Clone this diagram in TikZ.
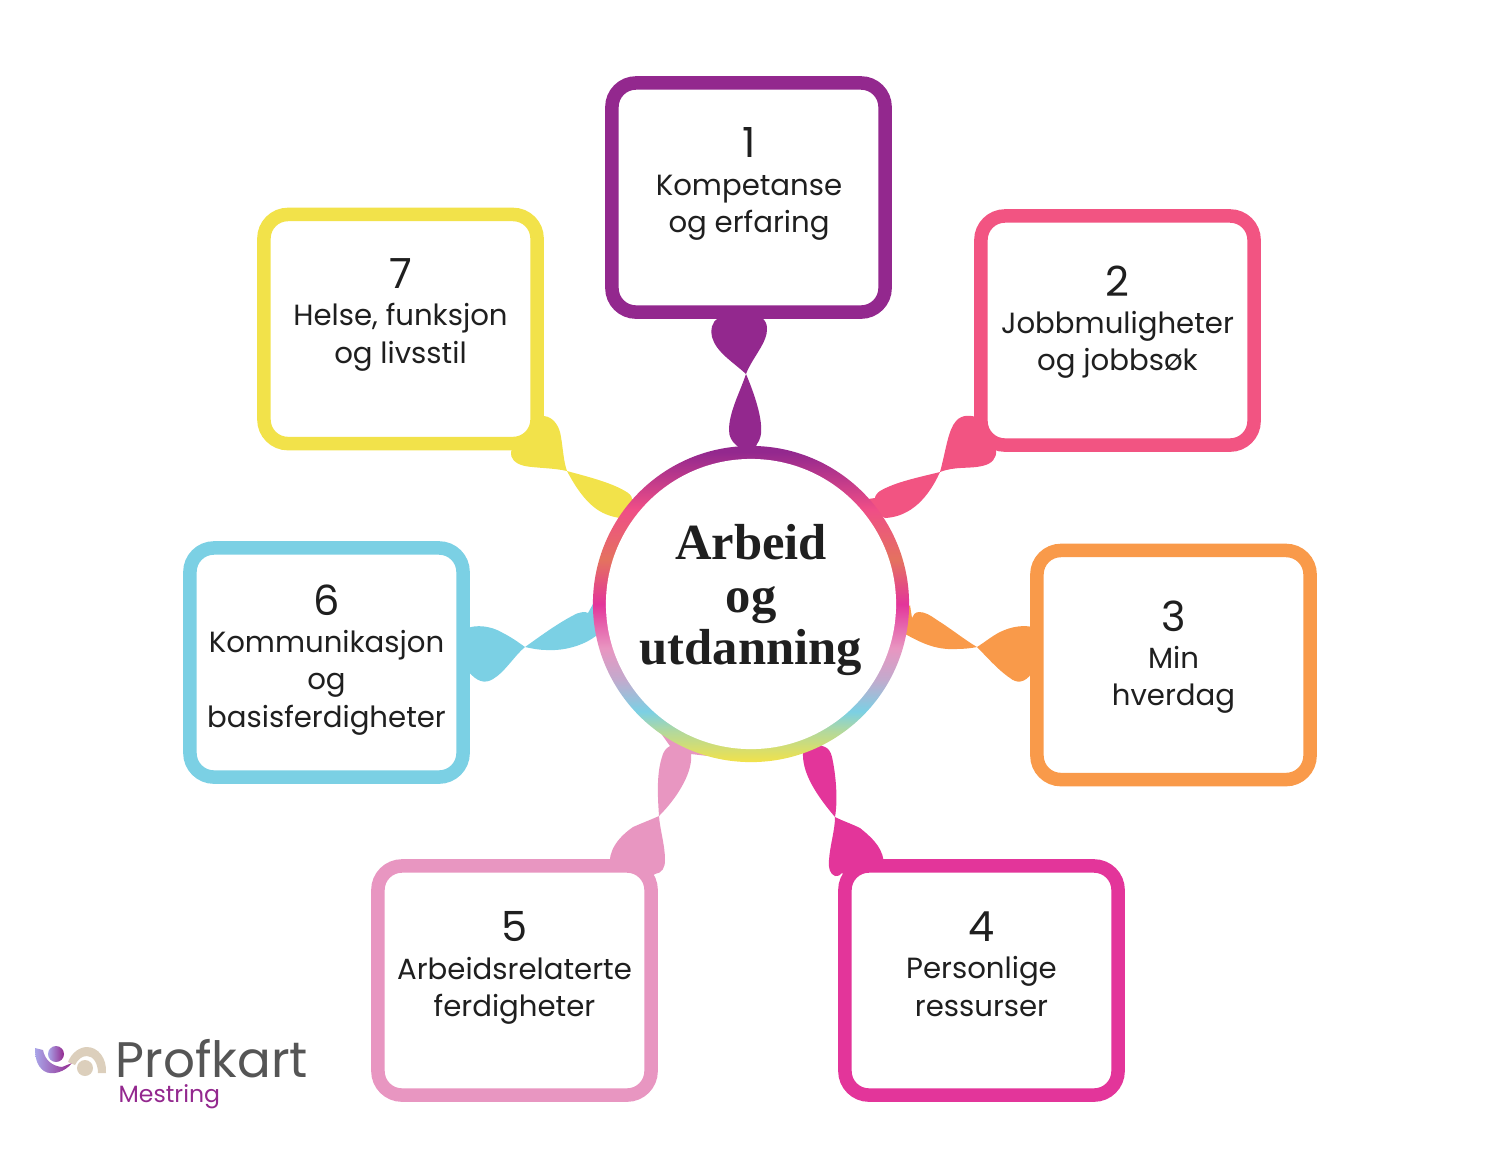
\documentclass[tikz,border=0pt]{standalone}
\usepackage{fontspec}
\usepackage{tikz}
\usetikzlibrary{backgrounds}
\newfontfamily\kortfont{Poppins}
\newfontfamily\tittelfont{Liberation Serif}
\definecolor{lilla}{HTML}{93288E}
\definecolor{rosa}{HTML}{F25482}
\definecolor{oransje}{HTML}{F99A4A}
\definecolor{magenta}{HTML}{E3359A}
\definecolor{lysrosa}{HTML}{E896C1}
\definecolor{lysblaa}{HTML}{7BD0E4}
\definecolor{gul}{HTML}{F2E24A}
\definecolor{tekst}{HTML}{1F1F1F}
\definecolor{beige}{HTML}{DCCFBC}
\definecolor{graa}{HTML}{555555}
\definecolor{fiolett}{HTML}{A9A5E8}
\definecolor{ringoransje}{HTML}{E4725F}
\pgfdeclareverticalshading{ringshade}{100bp}{color(0bp)=(gul); color(25bp)=(gul); color(30bp)=(gul!45!lysblaa); color(33bp)=(lysblaa); color(38bp)=(lysblaa!35!lysrosa); color(43bp)=(lysrosa); color(50bp)=(magenta); color(57bp)=(ringoransje); color(65bp)=(rosa!80!magenta); color(74bp)=(lilla); color(100bp)=(lilla)}
\tikzset{
  kort/.style={draw=#1, fill=white, line width=0.135cm, rounded corners=0.24cm, minimum width=2.73cm, minimum height=2.29cm, inner sep=0pt},
  korttekst/.style={align=center, anchor=north, inner sep=0pt, text=tekst, font=\kortfont\fontsize{8.3}{10.6}\selectfont},
  senterring/.style={circle, fill=white, minimum size=2.9cm, inner sep=0pt},
  tittel/.style={align=center, inner sep=0pt, text=tekst, font=\tittelfont\bfseries\fontsize{14.4}{14.8}\selectfont}
}
\newcommand{\tall}[1]{{\fontsize{11.8}{10.6}\selectfont #1}}
\begin{document}
\begin{tikzpicture}[x=0.01cm, y=-0.01cm]
\useasboundingbox (0,0) rectangle (1500,1159);
\node[kort=lilla] (kort1) at (748.5,197.5) {};
\node[kort=rosa] (kort2) at (1117.5,330.5) {};
\node[kort=oransje] (kort3) at (1173.5,665) {};
\node[kort=magenta] (kort4) at (981.5,980.5) {};
\node[kort=lysrosa] (kort5) at (514.5,980.5) {};
\node[kort=lysblaa] (kort6) at (326.5,662.5) {};
\node[kort=gul] (kort7) at (400.5,329) {};
\node[senterring] (senter) at (751,604) {};
\node[tittel] (tittel) at (751,600) {Arbeid\\og\\utdanning};
\node[korttekst] (tekst1) at (749,127) {\tall{1}\\Kompetanse\\og erfaring};
\node[korttekst] (tekst2) at (1117.5,265) {\tall{2}\\Jobbmuligheter\\og jobbsøk};
\node[korttekst] (tekst3) at (1173.5,600) {\tall{3}\\Min\\hverdag};
\node[korttekst] (tekst4) at (981.5,911) {\tall{4}\\Personlige\\ressurser};
\node[korttekst] (tekst5) at (514.5,911) {\tall{5}\\Arbeidsrelaterte\\ferdigheter};
\node[korttekst] (tekst6) at (326.5,584) {\tall{6}\\Kommunikasjon\\og\\basisferdigheter};
\node[korttekst] (tekst7) at (400.5,258) {\tall{7}\\Helse, funksjon\\og livsstil};
\begin{scope}[on background layer]
\fill[lilla] (kort1.center) -- (718,318) .. controls (712,322) and (710,330) .. (712,337) .. controls (716,352) and (733,362) .. (746,374) .. controls (740,392) and (729,412) .. (729,430) .. controls (729,437) and (732,441) .. (735,444) -- (senter.north) -- (757,444) .. controls (760,440) and (762,434) .. (761,425) .. controls (760,410) and (752,388) .. (746,374) .. controls (752,358) and (768,342) .. (767,328) .. controls (767,324) and (765,320) .. (762,318) -- cycle;
\fill[rosa] (kort2.center) -- (978,418) .. controls (972,415) and (962,414) .. (956,421) .. controls (948,430) and (946,450) .. (940,472) .. controls (920,477) and (895,482) .. (880,491) .. controls (877,493) and (875,496) .. (875,498) -- (senter.45) -- (885,518) .. controls (905,517) and (925,505) .. (940,472) .. controls (955,466) and (970,469) .. (982,466) .. controls (992,464) and (997,458) .. (996,450) -- cycle;
\fill[oransje] (kort3.center) -- (1032,627) .. controls (1025,625) and (1012,626) .. (1000,632) .. controls (992,636) and (985,642) .. (977,647) .. controls (965,640) and (950,628) .. (937,620) .. controls (930,615) and (925,612) .. (919,612) .. controls (915,612) and (913,615) .. (912,618) -- (910,605) -- (senter.-10) -- (907,635) .. controls (920,642) and (935,650) .. (955,649) .. controls (965,649) and (972,648) .. (977,647) .. controls (985,655) and (998,670) .. (1010,678) .. controls (1016,683) and (1024,684) .. (1032,673) -- cycle;
\fill[magenta] (kort4.center) -- (884,866) .. controls (884,850) and (875,840) .. (860,828) .. controls (852,824) and (843,821) .. (835,817) .. controls (838,800) and (836,775) .. (832,757) .. controls (831,752) and (828,748) .. (825,747) -- (senter.-68) -- (803,752) .. controls (802,770) and (812,790) .. (835,817) .. controls (835,830) and (830,845) .. (829,860) .. controls (828,868) and (830,874) .. (835,876) .. controls (838,877) and (840,875) .. (842,873) -- cycle;
\fill[lysrosa] (kort5.center) -- (610,866) .. controls (608,852) and (617,838) .. (633,827) .. controls (642,823) and (650,820) .. (659,816) .. controls (658,800) and (656,775) .. (662,757) .. controls (663,752) and (666,748) .. (670,746) -- (660,732) -- (senter.-112) -- (708,756) -- (691,754) .. controls (693,770) and (680,795) .. (659,816) .. controls (660,830) and (665,845) .. (665,860) .. controls (665,868) and (662,873) .. (655,874) -- cycle;
\fill[lysblaa] (kort6.center) -- (468,628) .. controls (475,625) and (490,625) .. (503,633) .. controls (511,637) and (518,642) .. (525,647) .. controls (535,640) and (555,625) .. (572,616) .. controls (578,612) and (586,611) .. (588,613) -- (593,604) -- (senter.185) -- (597,635) .. controls (585,645) and (565,651) .. (547,650) .. controls (538,650) and (530,648) .. (525,647) .. controls (515,655) and (505,672) .. (493,679) .. controls (485,684) and (477,682) .. (468,671) -- cycle;
\fill[gul] (kort7.center) -- (544,416) .. controls (553,417) and (558,425) .. (560,432) .. controls (563,445) and (563,460) .. (567,471) .. controls (585,476) and (610,482) .. (625,491) .. controls (629,493) and (632,496) .. (632,499) -- (senter.135) -- (620,518) .. controls (600,515) and (585,505) .. (567,471) .. controls (555,468) and (535,468) .. (525,466) .. controls (515,464) and (510,458) .. (511,452) .. controls (515,440) and (520,425) .. (533,419) .. controls (536,417) and (540,416) .. (544,416) -- cycle;
\shade[shading=ringshade] (senter) circle (1.58cm);
\end{scope}
\shade[left color=fiolett, right color=lilla] (35,1048) -- (43,1050) .. controls (45,1060) and (52,1066) .. (62,1067) -- (72,1063) .. controls (65,1072) and (52,1076) .. (44,1071) .. controls (37,1066) and (35,1058) .. (35,1048) -- cycle;
\shade[left color=fiolett, right color=lilla] (56,1054) circle (0.08cm);
\fill[beige] (68,1062) .. controls (72,1052) and (80,1047) .. (87,1047) .. controls (98,1047) and (107,1058) .. (106,1073) -- (98,1073) .. controls (98,1063) and (93,1056) .. (87,1056) .. controls (82,1056) and (78,1059) .. (75,1065) -- cycle;
\fill[beige] (85,1068) circle (0.08cm);
\node[anchor=base west, inner sep=0pt, text=graa, font=\kortfont\fontsize{14.2}{14.2}\selectfont] (profkart) at (115,1077) {Profkart};
\node[anchor=base west, inner sep=0pt, text=lilla, font=\kortfont\fontsize{6.7}{6.7}\selectfont] (mestring) at (118,1102) {Mestring};
\end{tikzpicture}
\end{document}
